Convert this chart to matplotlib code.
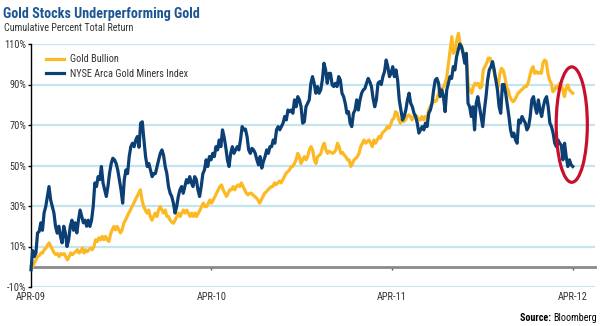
import matplotlib
matplotlib.use("Agg")
import matplotlib.pyplot as plt
import matplotlib.dates as mdates
from matplotlib.patches import Ellipse
from matplotlib import font_manager
import pandas as pd

# Cumulative percent total return, sampled roughly twice a week, Apr-2009 .. Apr-2012
miners = [
    -1.5, 8, 5, 6.8, 16.7, 17.4, 21.7, 18, 26.6, 29.7, 34.7, 39.6, 33, 29.7, 26.6, 19.9,
    16.6, 20, 15, 11.8, 20, 16.7, 10, 13.3, 20, 23, 18, 21.7, 16.7, 23, 28, 24.8, 21.7,
    23, 20, 23, 19.9, 23, 29.7, 41.4, 39.6, 44.5, 43, 49.5, 41.4, 38, 34.7, 39.6, 46.2,
    51, 53.6, 52.8, 51, 47.8, 43, 38, 31.4, 43, 47.8, 46, 54.4, 59.3, 61, 59.3, 62.6,
    64.3, 59, 70.9, 71.6, 62.6, 54.4, 49.5, 51, 47.8, 44.5, 46, 46, 49.5, 52.8, 56, 57.7,
    55, 49.5, 46, 39.6, 36.3, 34.7, 31.4, 26.5, 29.7, 34.7, 38, 39.6, 36.3, 39.6, 43,
    41.4, 44.5, 41.4, 39.6, 44.5, 43, 38, 34.7, 39.6, 46, 47.8, 52.8, 49.5, 54.4, 52.8,
    56, 54.4, 59.3, 57.7, 62.6, 59.3, 67.6, 64, 59, 52.8, 49.5, 56, 59.3, 56, 57.7, 59.3,
    57.7, 62.6, 69.2, 67.6, 68, 64.3, 57.7, 56, 58.5, 57.7, 56, 52.8, 50.3, 54.4, 48.7,
    52, 54.4, 57.7, 56, 59.3, 59.3, 62.6, 61, 67.6, 69.2, 67.6, 69.2, 70.9, 74.2, 72.5,
    77.4, 76.6, 77.4, 75.8, 82.4, 79, 84, 82.4, 79, 70.9, 71.6, 79, 80.7, 82.4, 90.6,
    93.9, 90.6, 85.7, 89, 85.7, 87.3, 92.2, 100.5, 97.2, 90.6, 95.5, 95.5, 89.8, 89,
    90.6, 89, 93.9, 92.2, 85.7, 84, 80.7, 75.8, 76.6, 70.9, 69.2, 75.8, 77.4, 82.4, 77.4,
    82.4, 85.7, 87.3, 88, 90.6, 93, 91.4, 89, 83.2, 79, 82.4, 90.6, 91.4, 90, 93.9, 96.4,
    102.1, 98.8, 93.9, 95.5, 98.8, 93.9, 97.2, 92.2, 82.4, 77.4, 72.5, 74.2, 77.4, 82.4,
    85.7, 80.7, 79, 75.8, 74.2, 70.9, 66, 67.6, 69.2, 67.6, 70.9, 69.2, 75.8, 77.4, 80.7,
    87.3, 92.2, 93, 90.6, 84, 87.3, 84, 76.6, 87.3, 90.6, 93.9, 93, 98.8, 97.2, 103.7,
    107, 110, 108.7, 105.4, 100.5, 105.4, 80.7, 79, 74.2, 79, 67.6, 80.7, 84, 79, 74.2,
    69.2, 77.4, 84, 92.2, 97.2, 98.8, 101.3, 97.2, 92.2, 87.3, 79, 75.8, 90, 90, 85.7,
    80, 74.2, 67.6, 64.3, 66, 62.6, 61, 72.5, 71, 74.2, 72.5, 71, 67.6, 69.2, 74.2, 82.4,
    84, 79, 75.8, 82.4, 77.4, 74.2, 79, 82.4, 84, 79, 71, 69.2, 66, 61, 59.3, 62.6, 61,
    60, 52.8, 61, 54.4, 49.5, 52.8, 50.3, 49.5,
]

gold = [
    0, 0, 1.8, 3.4, 5, 5.5, 6.8, 6.8, 8.4, 9.2, 10.8, 11.8, 10, 8.4, 6.8, 6, 6.5, 5, 6.5,
    6, 6.5, 5, 3.4, 5, 6.8, 6, 6.8, 7.5, 8.4, 6.8, 7.5, 9.2, 6.8, 8.4, 7.5, 8.4, 9.2,
    8.4, 10, 13.3, 12.5, 14.3, 13.3, 15, 13.3, 15, 13.3, 12.5, 16, 18.2, 19.9, 18.2, 19.9,
    18.2, 16.7, 18.2, 21.5, 23,
    24.8, 26.5, 28, 29.7, 31.4, 33, 34.7, 36.3, 38, 33, 29.7, 28, 26.5, 28, 24.8, 23,
    24.8, 26.5, 24.8, 28, 29.7, 28, 26.5, 28, 24.8, 24.8, 23, 22, 21.5, 23, 24.8, 26.5,
    24.8, 26.5, 28, 26.5, 28, 26.5, 24.8, 26.5, 24.8, 26.5, 24.8, 26.5, 28, 29.7, 31.4,
    29.7, 29.7, 31.4, 33, 31.4, 33, 34.7, 36.3, 38, 39.6, 40.4,
    38, 36.3, 34.7, 36.3, 38, 38, 39.6, 38, 39.6, 40.4, 39.6, 41.4, 39.6, 38, 36.3, 35.5,
    36.3, 36.3, 35.5, 34.7, 34, 33, 31.4, 33, 34.7, 36.3, 37, 38, 38.8, 39.6, 39.6, 41.4,
    40.6, 41.4, 42.3, 41.4, 43, 44.5, 46.2, 47, 47.8, 49.5, 49.5, 51, 52.8, 56, 54.4, 51,
    52.8, 54.4, 52.8, 54.4, 57.7, 59.3, 57.7, 52.8, 51, 54.4, 55, 56,
    59.3, 61, 57.7, 56, 57, 56.5, 56, 56.5, 57.7, 61, 59.3, 56, 56.5, 55.2, 54.4, 52.8,
    52.8, 49.5, 51, 52.8, 53.5, 54.4, 56, 59.3, 61, 62.6, 61, 61.8, 62.6, 61, 59.3, 62.6,
    61, 62.6, 64.3, 63.5, 66, 66.8, 67.6, 69.2, 68.4, 70, 72.5, 73.3, 76.6, 75.8, 72.5,
    70.9, 73.3, 71.7, 72.5, 74.2, 75, 74.2, 72.5, 74.2, 75, 74.2, 72.5,
    72.5, 74.2, 72.5, 74.2, 72.5, 77.4, 79, 80.7, 82.4, 81.5, 82.4, 85.7, 88.2, 87.3, 89,
    90.6, 93.9, 100.5, 107, 113.6, 105.4, 107, 112, 115.3, 110.3, 108.7, 105.4, 103.7,
    100.5, 89, 87.3, 85.7, 89, 90.6, 89.8, 90.6, 88.2, 89, 97.2, 98.8, 100.5, 103, 103,
    100.5, 98.8, 93.9, 92.2, 89,
    95.5, 98, 97, 93.9, 89, 87.3, 84, 82.4, 81.5, 82.4, 84, 85.7, 86.4, 87.3, 88, 89, 89,
    90.6, 93.9, 97.2, 98.8, 95.5, 96.4, 95.5, 96, 95.5, 100.5, 102.1, 101.3, 95.5, 92.2,
    90.6, 86.4, 87.3, 89, 88.2, 90.6, 89.8, 87.3, 84, 88.2, 89.8, 87.3, 86.4, 85.7,
]

series_start = "2009-04-01"
series_end = "2012-04-01"
tick_dates = ["2009-04-01", "2010-04-01", "2011-04-01", "2012-04-01"]
tick_labels = ["APR-09", "APR-10", "APR-11", "APR-12"]
y_ticks = [-10, 10, 30, 50, 70, 90, 110]

GOLD = "#FDB924"
NAVY = "#0C3F73"
TITLE_BLUE = "#1B5593"
TEXT = "#333333"
RED = "#C8102E"

# prefer a narrow sans face when one is installed
installed = {f.name for f in font_manager.fontManager.ttflist}
narrow_choices = ["Roboto Condensed", "Liberation Sans Narrow", "Open Sans Condensed",
                  "Arial Narrow", "Roboto"]
narrow = next(n for n in narrow_choices if n in installed)
plt.rcParams["font.family"] = [narrow, "DejaVu Sans"]

miners_dates = pd.date_range(series_start, series_end, periods=len(miners))
gold_dates = pd.date_range(series_start, series_end, periods=len(gold))

fig = plt.figure(figsize=(6.0, 3.26), dpi=100)
ax = fig.add_axes([31 / 600, 1 - 287 / 326, 564 / 600, 243 / 326])

ax.set_ylim(-10, 110)
ax.set_xlim(pd.Timestamp("2009-04-01"), pd.Timestamp("2012-05-16"))

# horizontal grid
ax.set_yticks(y_ticks)
ax.set_yticklabels([f"{v}%" for v in y_ticks])
ax.yaxis.grid(True, color="#c4e4ee", lw=1.6)
ax.set_axisbelow(True)

for side in ("top", "right"):
    ax.spines[side].set_visible(False)
ax.spines["left"].set_color("black")
ax.spines["left"].set_linewidth(1.0)
ax.spines["bottom"].set_position(("data", 0))
ax.spines["bottom"].set_color("#8a8a8a")
ax.spines["bottom"].set_linewidth(2.0)

ax.set_xticks(pd.to_datetime(tick_dates))
ax.set_xticklabels(tick_labels)
ax.tick_params(axis="x", length=2, width=1, color="#555555", pad=16,
               labelsize=7.5, labelcolor=TEXT)
ax.tick_params(axis="y", length=2.5, width=1, color="black", pad=1,
               labelsize=7.5, labelcolor=TEXT)

ax.plot(gold_dates, gold, color=GOLD, lw=2.3, label="Gold Bullion",
        clip_on=False, solid_joinstyle="round", zorder=3)
ax.plot(miners_dates, miners, color=NAVY, lw=2.3, label="NYSE Arca Gold Miners Index",
        clip_on=False, solid_joinstyle="round", zorder=4)

# highlight the recent divergence
center = mdates.date2num(pd.Timestamp("2012-03-30"))
ax.add_patch(Ellipse((center, 70.2), width=63, height=57, fill=False,
                     edgecolor=RED, lw=2.3, clip_on=False, zorder=5))

leg = fig.legend(loc="upper left", bbox_to_anchor=(46 / 600, 1 - 54.5 / 326),
                 frameon=False, fontsize=7.4, handlelength=1.75, handletextpad=0.55,
                 labelspacing=0.42, borderpad=0, borderaxespad=0)
for t in leg.get_texts():
    t.set_color(TEXT)

fig.text(3 / 600, 1 - 18 / 326, "Gold Stocks Underperforming Gold", fontsize=10.2,
         fontweight="bold", color=TITLE_BLUE, va="baseline")
fig.text(4 / 600, 1 - 31 / 326, "Cumulative Percent Total Return", fontsize=7.3,
         color=TEXT, va="baseline")

src = fig.text(597 / 600, 1 - 321 / 326, "Bloomberg", fontsize=7.3, color="black",
               ha="right", va="baseline")
fig.canvas.draw()
bb = src.get_window_extent()
fig.text(bb.x0 / fig.bbox.width, 1 - 321 / 326, "Source: ", fontsize=7.3,
         fontweight="bold", color="black", ha="right", va="baseline")

fig.savefig("out.png", dpi=100)
